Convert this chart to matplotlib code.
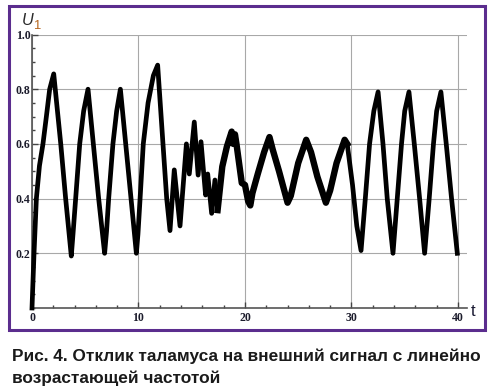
import matplotlib
matplotlib.use("Agg")
import matplotlib.pyplot as plt
from matplotlib.patches import Rectangle
from matplotlib.ticker import MultipleLocator

# values: time t and response U1
t = [0.0, 0.19, 0.41, 0.7, 1.03, 1.35, 1.66, 2.04, 2.7, 3.16, 3.69,
     3.85, 4.1, 4.48, 4.85, 5.26, 5.76, 6.26, 6.82,
     7.0, 7.2, 7.6, 7.95, 8.3, 8.8, 9.3, 9.8,
     9.95, 10.15, 10.45, 10.9, 11.4, 11.8, 12.3, 12.65, 12.96,
     13.36, 13.9, 14.5, 14.77, 15.24, 15.6, 15.87, 16.3, 16.5, 16.87,
     17.18, 17.43, 17.87, 18.3, 18.75, 18.9, 19.06, 19.2, 19.7, 20.0,
     20.3, 20.5, 20.7, 21.2, 21.8, 22.3, 22.6, 23.2, 24.0, 24.3,
     25.0, 25.75, 26.2, 26.8, 27.6, 28.0, 28.6, 29.36, 29.6, 30.1,
     30.5, 30.9, 31.3, 31.7, 32.1, 32.5, 32.96, 33.36, 33.9,
     34.3, 34.7, 35.0, 35.4, 35.9, 36.4, 36.87,
     37.3, 37.7, 38.0, 38.4, 38.9, 39.4, 39.94]
u1 = [0.0, 0.2, 0.4, 0.52, 0.6, 0.7, 0.8, 0.856, 0.6, 0.4, 0.19,
      0.27, 0.4, 0.6, 0.72, 0.8, 0.6, 0.4, 0.2,
      0.28, 0.4, 0.6, 0.72, 0.8, 0.6, 0.4, 0.2,
      0.27, 0.4, 0.6, 0.75, 0.85, 0.888, 0.6, 0.4, 0.283,
      0.505, 0.3, 0.6, 0.49, 0.68, 0.486, 0.608, 0.413, 0.49, 0.346,
      0.468, 0.358, 0.517, 0.59, 0.645, 0.6, 0.635, 0.6, 0.457, 0.45,
      0.39, 0.375, 0.42, 0.49, 0.57, 0.625, 0.58, 0.5, 0.385, 0.41,
      0.53, 0.615, 0.57, 0.48, 0.385, 0.43, 0.53, 0.615, 0.6, 0.45,
      0.3, 0.21, 0.4, 0.6, 0.72, 0.79, 0.6, 0.4, 0.2,
      0.4, 0.6, 0.72, 0.79, 0.6, 0.4, 0.2,
      0.4, 0.6, 0.72, 0.79, 0.6, 0.4, 0.2]

xticks = [0, 10, 20, 30, 40]
yticks = [0.2, 0.4, 0.6, 0.8, 1.0]

W, H = 493, 392
def fx(x):
    return x / W
def fy(y):
    return 1 - y / H

fig = plt.figure(figsize=(W / 100, H / 100), dpi=100)
fig.patch.set_facecolor('white')

# purple frame round the chart
fig.patches.append(Rectangle((fx(9), fy(330)), fx(485) - fx(9), fy(6) - fy(330),
                             transform=fig.transFigure, fill=False,
                             edgecolor='#5b2d8e', lw=2.2))

ax = fig.add_axes([fx(32), fy(308), fx(467) - fx(32), fy(34.5) - fy(308)])
ax.plot(t, u1, color='black', lw=3.4, solid_joinstyle='round', clip_on=False, zorder=3)
# the noisy middle part looks heavier in the original
i0, i1 = t.index(17.43), t.index(29.6) + 1
ax.plot(t[i0:i1], u1[i0:i1], color='black', lw=4.6, solid_joinstyle='round', zorder=3)

ax.set_xlim(0, 40.85)
ax.set_ylim(0, 1.0)
ax.set_xticks(xticks)
ax.set_yticks(yticks)
ax.set_xticklabels([str(v) for v in xticks])
ax.set_yticklabels([f"{v:.1f}" for v in yticks])
ax.xaxis.set_minor_locator(MultipleLocator(2))
ax.yaxis.set_minor_locator(MultipleLocator(0.05))
ax.tick_params(which='both', direction='in', color='#444444', width=1)
ax.tick_params(which='major', length=4)
ax.tick_params(which='minor', length=2.5)
ax.tick_params(axis='x', pad=3)
ax.tick_params(axis='y', pad=1)
for lab in ax.get_xticklabels() + ax.get_yticklabels():
    lab.set_fontfamily('Liberation Serif')
    lab.set_fontweight('bold')
    lab.set_fontsize(8.5)
    lab.set_color('#1c1c2c')

ax.grid(True, which='major', color='#a8a8a8', lw=0.8)
ax.set_axisbelow(True)
for s in ['top', 'right']:
    ax.spines[s].set_visible(False)
for s in ['left', 'bottom']:
    ax.spines[s].set_color('#555555')
    ax.spines[s].set_linewidth(1.2)

# axis names
fig.text(fx(21.5), fy(25), 'U', fontfamily='Liberation Sans', style='italic',
         fontsize=11.7, color='#2a2a2a', va='baseline')
fig.text(fx(33), fy(29.3), '1', fontfamily='Liberation Sans',
         fontsize=9.4, color='#b5651d', va='baseline')
fig.text(fx(470.5), fy(316.5), 't', fontfamily='Liberation Sans',
         fontsize=12, color='#1a1a33', va='baseline')

# caption
fig.text(fx(12), fy(361), 'Рис. 4. Отклик таламуса на внешний сигнал с линейно',
         fontfamily='Liberation Sans', fontweight='bold', fontsize=12.4,
         color='#1a1a1a', va='baseline')
fig.text(fx(12), fy(383), 'возрастающей частотой',
         fontfamily='Liberation Sans', fontweight='bold', fontsize=12.4,
         color='#1a1a1a', va='baseline')

fig.savefig('out.png', dpi=100)
